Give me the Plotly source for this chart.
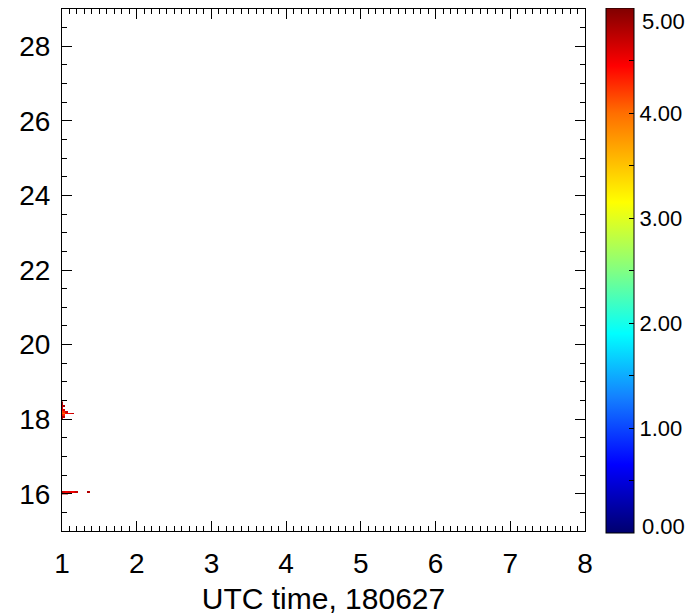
import numpy as np
import plotly.graph_objects as go

# cells: time (UTC hours), altitude (km), value
time_hr = [
    1.01, 1.01, 1.01, 1.01, 1.01, 1.01, 1.01, 1.01, 1.01, 1.01,
    1.03, 1.03, 1.03, 1.03, 1.03, 1.03,
    1.05, 1.05, 1.07, 1.07, 1.09, 1.11, 1.13, 1.15,
    1.01, 1.03, 1.05, 1.07, 1.09, 1.11, 1.13, 1.15, 1.17, 1.19, 1.21,
    1.01, 1.03, 1.05, 1.07,
    1.35, 1.37,
]
alt_km = [
    18.00, 18.05, 18.10, 18.15, 18.20, 18.25, 18.30, 18.35, 18.40, 18.45,
    18.05, 18.10, 18.15, 18.20, 18.25, 18.35,
    18.15, 18.20, 18.15, 18.20, 18.15, 18.15, 18.15, 18.15,
    16.05, 16.05, 16.05, 16.05, 16.05, 16.05, 16.05, 16.05, 16.05, 16.05, 16.05,
    16.00, 16.00, 16.00, 16.00,
    16.05, 16.05,
]
value = [
    4.7, 4.8, 4.4, 4.1, 4.2, 4.5, 4.6, 4.7, 4.8, 4.9,
    4.7, 4.3, 4.0, 4.3, 4.6, 4.8,
    4.4, 4.6, 4.5, 4.7, 4.4, 4.5, 4.6, 4.7,
    4.8, 4.6, 4.5, 4.5, 4.6, 4.6, 4.5, 4.5, 4.6, 4.7, 4.7,
    4.9, 4.7, 4.8, 4.9,
    4.8, 4.7,
]

cbar_vals = [0, 0.5, 1, 1.5, 2, 2.5, 3, 3.5, 4, 4.5, 5]
cbar_text = ["", "", "1.00", "", "2.00", "", "3.00", "", "4.00", "", ""]
cbar_end_text = ["0.00", "5.00"]

# regular grid for the heatmap
dx, dy = 0.02, 0.05
xs = np.round(np.arange(min(time_hr), max(time_hr) + dx / 2, dx), 3)
ys = np.round(np.arange(min(alt_km), max(alt_km) + dy / 2, dy), 3)
z = np.full((len(ys), len(xs)), np.nan)
for t, a, v in zip(time_hr, alt_km, value):
    i = int(round((a - ys[0]) / dy))
    j = int(round((t - xs[0]) / dx))
    z[i, j] = v
z = [[None if np.isnan(c) else c for c in row] for row in z]

rainbow = [
    [0.00, "rgb(0,0,110)"],
    [0.13, "rgb(0,0,255)"],
    [0.26, "rgb(20,130,255)"],
    [0.38, "rgb(0,255,255)"],
    [0.50, "rgb(130,255,130)"],
    [0.63, "rgb(255,255,0)"],
    [0.80, "rgb(255,110,0)"],
    [0.89, "rgb(255,0,0)"],
    [1.00, "rgb(128,0,0)"],
]

cb_font = dict(family="Liberation Sans, Arial", size=22, color="black")

fig = go.Figure(go.Heatmap(
    x=xs, y=ys, z=z, zmin=0, zmax=5, colorscale=rainbow, hoverongaps=False,
    colorbar=dict(
        x=1.04, xanchor="left", xpad=0, y=0.499, yanchor="middle", ypad=0,
        len=525, lenmode="pixels", thickness=28,
        outlinewidth=1, outlinecolor="black",
        tickvals=cbar_vals, ticktext=cbar_text,
        ticks="inside", ticklen=5, tickcolor="black",
        tickfont=cb_font,
    ),
))

# end labels of the colour bar sit inside its ends, as in the original
fig.add_annotation(text=cbar_end_text[0], xref="paper", yref="paper", x=1.105, y=0.0077,
                   xanchor="left", yanchor="middle", showarrow=False, font=cb_font)
fig.add_annotation(text=cbar_end_text[1], xref="paper", yref="paper", x=1.105, y=0.977,
                   xanchor="left", yanchor="middle", showarrow=False, font=cb_font)

tick_font = dict(family="Liberation Sans, Arial", size=28, color="black")
fig.update_xaxes(
    range=[1, 8], dtick=1, showgrid=False, zeroline=False,
    showline=True, linecolor="black", linewidth=1, mirror="ticks",
    ticks="inside", ticklen=10, tickcolor="black",
    minor=dict(dtick=0.1, ticks="inside", ticklen=5, tickcolor="black"),
    tickfont=tick_font, ticklabelstandoff=7,
    title=dict(text="UTC time, 180627", standoff=10,
               font=dict(family="Liberation Sans, Arial", size=30, color="black")),
)
fig.update_yaxes(
    range=[15, 29], dtick=2, showgrid=False, zeroline=False,
    showline=True, linecolor="black", linewidth=1, mirror="ticks",
    ticks="inside", ticklen=10, tickcolor="black",
    minor=dict(dtick=0.5, ticks="inside", ticklen=5, tickcolor="black"),
    tickfont=tick_font, ticklabelstandoff=5,
)
fig.update_layout(
    width=700, height=614,
    margin=dict(l=54, r=123, t=1, b=91, autoexpand=False),
    plot_bgcolor="white", paper_bgcolor="white",
    font=dict(family="Liberation Sans, Arial", color="black"),
)

fig.write_html("out.html")
